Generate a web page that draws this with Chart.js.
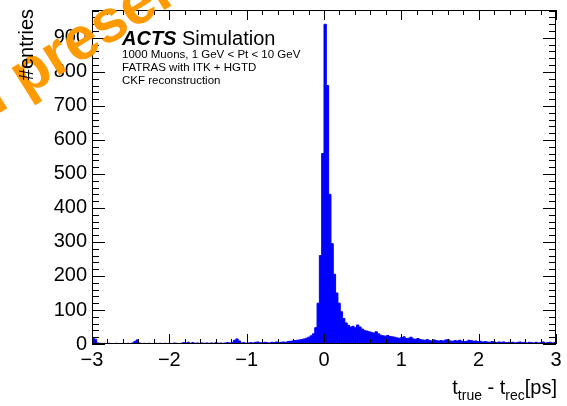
<!DOCTYPE html>
<html>
<head>
<meta charset="utf-8">
<script src="https://cdn.jsdelivr.net/npm/chart.js@4"></script>
<style>
  body { margin: 0; background: #fff; }
  canvas { display: block; }
</style>
</head>
<body>
<canvas id="chart" width="567" height="406"></canvas>
<script>
// time residual histogram, 200 bins from -3 to 3 ps
const xMin = -3;
const xMax = 3;
const binWidth = 0.03;

const binCounts = [
    17, 14, 3, 2, 1, 2, 1, 2, 1, 1,
    2, 1, 1, 2, 1, 2, 1, 3, 7, 12,
    3, 1, 2, 1, 2, 1, 1, 2, 1, 2,
    1, 2, 1, 2, 1, 3, 2, 1, 2, 4,
    3, 5, 2, 4, 2, 3, 2, 3, 2, 3,
    2, 3, 2, 4, 2, 3, 2, 3, 4, 3,
    5, 11, 15, 9, 3, 4, 2, 3, 4, 3,
    5, 6, 4, 3, 5, 4, 3, 5, 4, 6,
    4, 5, 6, 5, 7, 8, 9, 10, 11, 12,
    13, 15, 17, 20, 24, 30, 48, 120, 260, 560,
    940, 760, 440, 295, 205, 150, 120, 95, 75, 62,
    55, 50, 52, 48, 56, 50, 44, 40, 38, 36,
    34, 32, 36, 30, 26, 24, 23, 25, 22, 21,
    20, 18, 17, 19, 21, 16, 17, 20, 15, 14,
    16, 13, 12, 11, 13, 10, 9, 12, 10, 9,
    10, 9, 12, 13, 9, 8, 10, 9, 11, 8,
    7, 8, 11, 10, 8, 9, 7, 8, 6, 7,
    6, 5, 7, 6, 4, 6, 5, 6, 4, 5,
    4, 5, 3, 5, 6, 4, 5, 3, 5, 4,
    3, 5, 3, 4, 6, 3, 4, 5, 3, 4
];

const xTickValues = [-3, -2, -1, 0, 1, 2, 3];
const yTickValues = [0, 100, 200, 300, 400, 500, 600, 700, 800, 900];
const yMax = 982;

const infoLines = [
    "1000 Muons, 1 GeV < Pt < 10 GeV",
    "FATRAS with ITK + HGTD",
    "CKF reconstruction"
];

const FONT = "'Liberation Sans', Arial, Helvetica, sans-serif";

// left bin edges, plus closing edge so the last bin gets its full width
const binEdges = binCounts.map((_, i) => +(xMin + i * binWidth).toFixed(2)).concat([xMax]);
const histPoints = binEdges.map((x, i) => ({ x: x, y: binCounts[Math.min(i, binCounts.length - 1)] }));

const minusFmt = v => (v < 0 ? "\u2212" + Math.abs(v) : String(v));

// ROOT-like frame: inward ticks on all four sides, labels and titles
const rootFrame = {
    id: "rootFrame",
    afterDraw(chart) {
        const { ctx, chartArea: a, scales } = chart;
        const xs = scales.x, ys = scales.y;
        ctx.save();
        ctx.strokeStyle = "#000";
        ctx.lineWidth = 1;
        ctx.strokeRect(Math.round(a.left) + 0.5, Math.round(a.top) + 0.5,
            Math.round(a.right - a.left) - 1, Math.round(a.bottom - a.top) - 1);

        ctx.beginPath();
        // x ticks, major every 1, minor every 0.2
        for (let k = 0; k <= 30; k++) {
            const v = xMin + k * 0.2;
            const px = Math.round(xs.getPixelForValue(v)) + 0.5;
            const len = k % 5 === 0 ? 10 : 5;
            ctx.moveTo(px, a.bottom); ctx.lineTo(px, a.bottom - len);
            ctx.moveTo(px, a.top); ctx.lineTo(px, a.top + len);
        }
        // y ticks, major every 100, minor every 20
        for (let v = 0; v <= yMax; v += 20) {
            const py = Math.round(ys.getPixelForValue(v)) + 0.5;
            const len = v % 100 === 0 ? 13 : 7;
            ctx.moveTo(a.left, py); ctx.lineTo(a.left + len, py);
            ctx.moveTo(a.right, py); ctx.lineTo(a.right - len, py);
        }
        ctx.stroke();

        // label block
        ctx.fillStyle = "#000";
        ctx.textBaseline = "alphabetic";
        ctx.textAlign = "left";
        ctx.font = "italic bold 20px " + FONT;
        ctx.fillText("ACTS", 122, 45);
        const wActs = ctx.measureText("ACTS ").width;
        ctx.font = "20px " + FONT;
        ctx.fillText("Simulation", 122 + wActs, 45);
        ctx.font = "11.5px " + FONT;
        infoLines.forEach((line, i) => ctx.fillText(line, 122, 58 + i * 13));

        // x axis title with subscripts
        const parts = [
            ["t", 20, 0], ["true", 14, 6], [" - t", 20, 0], ["rec", 14, 6], ["[ps]", 20, 0]
        ];
        let total = 0;
        parts.forEach(p => { ctx.font = p[1] + "px " + FONT; total += ctx.measureText(p[0]).width; });
        let cx = 557 - total;
        parts.forEach(p => {
            ctx.font = p[1] + "px " + FONT;
            ctx.fillText(p[0], cx, 394 + p[2]);
            cx += ctx.measureText(p[0]).width;
        });

        // stamp across the top left corner
        ctx.save();
        ctx.font = "bold 60px " + FONT;
        ctx.fillStyle = "#ff9a00";
        const lead = ctx.measureText("Internal ").width;
        ctx.translate(25, 97);
        ctx.rotate(-32 * Math.PI / 180);
        ctx.fillText("Internal presentation", -lead, 0);
        ctx.restore();

        // y axis title
        ctx.save();
        ctx.font = "20px " + FONT;
        ctx.fillStyle = "#000";
        ctx.translate(27, 9);
        ctx.rotate(-Math.PI / 2);
        ctx.textAlign = "right";
        ctx.textBaseline = "middle";
        ctx.fillText("#entries", 0, 0);
        ctx.restore();

        ctx.restore();
    }
};

const createChart = () => {
    const ctx = document.querySelector("canvas#chart");

    new Chart(ctx, {
        type: "line",
        data: {
            datasets: [{
                data: histPoints,
                stepped: true,
                borderColor: "#0000ff",
                backgroundColor: "#0000ff",
                borderWidth: 1,
                pointRadius: 0,
                fill: "origin"
            }]
        },
        options: {
            responsive: false,
            animation: false,
            devicePixelRatio: 1,
            layout: { padding: { top: 10, right: 11, left: 0, bottom: 0 } },
            plugins: { legend: { display: false }, tooltip: { enabled: false } },
            scales: {
                x: {
                    type: "linear",
                    min: xMin,
                    max: xMax,
                    grid: { display: false, drawTicks: false },
                    border: { display: false },
                    afterBuildTicks: s => { s.ticks = xTickValues.map(v => ({ value: v })); },
                    afterFit: s => {
                        s.height = 62;
                        s.paddingLeft = 0;
                        s.paddingRight = 0;
                    },
                    ticks: {
                        autoSkip: false,
                        maxRotation: 0,
                        padding: 4,
                        color: "#000",
                        font: { family: FONT, size: 20 },
                        callback: v => minusFmt(v)
                    }
                },
                y: {
                    min: 0,
                    max: yMax,
                    grid: { display: false, drawTicks: false },
                    border: { display: false },
                    afterBuildTicks: s => { s.ticks = yTickValues.map(v => ({ value: v })); },
                    afterFit: s => {
                        s.width = 92;
                        s.paddingTop = 0;
                        s.paddingBottom = 0;
                    },
                    ticks: {
                        padding: 5,
                        color: "#000",
                        font: { family: FONT, size: 20 },
                        callback: v => String(v)
                    }
                }
            }
        },
        plugins: [rootFrame]
    });
};

createChart();
</script>
</body>
</html>
